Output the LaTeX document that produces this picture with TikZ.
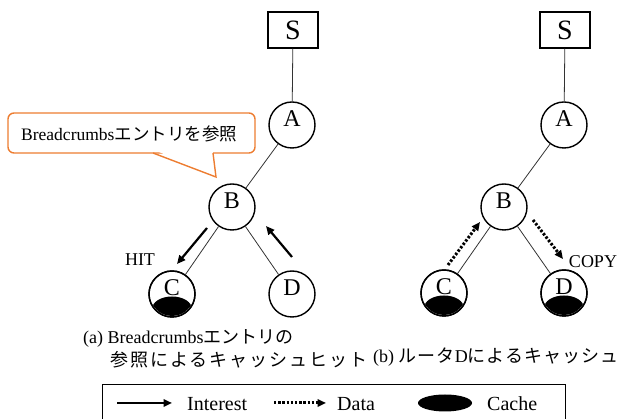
\documentclass[tikz,border=0pt]{standalone}
\usepackage{fontspec}
\setmainfont{Liberation Serif}
\newfontfamily\jpfont{Noto Sans CJK JP}
\newfontfamily\jpwide[LetterSpace=11]{Noto Sans CJK JP}
\newfontfamily\jpmid[LetterSpace=6]{Noto Sans CJK JP}
\usetikzlibrary{arrows.meta}
\definecolor{callorange}{HTML}{ED7D31}
\begin{document}
\begin{tikzpicture}[x=1pt,y=-1pt,
  router/.style={circle,draw,line width=1.4pt,minimum size=46pt,inner sep=0pt},
  rlbl/.style={font=\fontsize{24}{24}\selectfont,yshift=6pt},
  server/.style={rectangle,draw,line width=1.4pt,minimum width=50pt,minimum height=36pt,inner sep=0pt,font=\fontsize{28}{28}\selectfont},
  link/.style={line width=0.8pt,draw=black!80},
  interest/.style={line width=2.2pt,-{Triangle[length=8.5pt,width=7.5pt]}},
  datamsg/.style={line width=3pt,dash pattern=on 2.4pt off 1.8pt,-{Triangle[length=8.5pt,width=7.5pt]}},
  cachefill/.style={fill=black},
  txt/.style={font=\fontsize{18}{20}\selectfont,inner sep=0pt},
  legtxt/.style={font=\fontsize{20}{22}\selectfont,inner sep=0pt,anchor=west}]
\useasboundingbox (0,0) rectangle (633,419);

% ---------- tree (a) ----------
\node[server] (Sa) at (293,30) {S};
\node[router,label={[rlbl]center:A}] (Aa) at (292,125) {};
\node[router,label={[rlbl]center:B}] (Ba) at (232,207) {};
\node[router] (Ca) at (172,294) {};
\node[router,label={[rlbl]center:D}] (Da) at (292,294) {};
\begin{scope}
  \clip (Ca.center) circle (22pt);
  \fill[cachefill] ([yshift=-15pt]Ca.center) ellipse [x radius=20pt,y radius=12.5pt];
\end{scope}
\node[rlbl] at (Ca.center) {C};
\draw[router,fill=none] (Ca.center) circle (23pt);
\draw[link] (Sa) -- (Aa);
\draw[link] (Aa) -- (Ba);
\draw[link] (Ba) -- (Ca);
\draw[link] (Ba) -- (Da);

\coordinate (i1s) at (207,228); \coordinate (i1e) at (177,264);
\coordinate (i2s) at (292,257); \coordinate (i2e) at (266,226);
\draw[interest] (i1s) -- (i1e);
\draw[interest] (i2s) -- (i2e);
\node[txt] (hit) at (140,260) {HIT};

% callout
\draw[callorange,line width=1.4pt,fill=white,rounded corners=6pt] (8,113) rectangle (255,153);
\fill[white] (154,150) -- (212.5,150) -- (215.5,175) -- cycle;
\coordinate (cl) at (153,153); \coordinate (ct) at (216,177); \coordinate (cr) at (213,153);
\draw[callorange,line width=1.4pt,line join=miter] (cl) -- (ct) -- (cr);
\node[txt,anchor=west,font=\fontsize{17.5}{20}\selectfont] (call) at (21,134) {Breadcrumbs{\jpfont エントリを参照}};

% ---------- tree (b) ----------
\node[server] (Sb) at (565,30) {S};
\node[router,label={[rlbl]center:A}] (Ab) at (564,125) {};
\node[router,label={[rlbl]center:B}] (Bb) at (504,207) {};
\node[router] (Cb) at (444,293) {};
\node[router] (Db) at (564,293) {};
\foreach \n/\l in {Cb/C,Db/D}{
  \begin{scope}
    \clip (\n.center) circle (22pt);
    \fill[cachefill] ([yshift=-15pt]\n.center) ellipse [x radius=20pt,y radius=12.5pt];
  \end{scope}
  \node[rlbl] at (\n.center) {\l};
  \draw[router,fill=none] (\n.center) circle (23pt);
}
\draw[link] (Sb) -- (Ab);
\draw[link] (Ab) -- (Bb);
\draw[link] (Bb) -- (Cb);
\draw[link] (Bb) -- (Db);

\coordinate (d1s) at (448,265); \coordinate (d1e) at (480,222);
\coordinate (d2s) at (533,220); \coordinate (d2e) at (563,259);
\draw[datamsg] (d1s) -- (d1e);
\draw[datamsg] (d2s) -- (d2e);
\node[txt] (copy) at (593,262) {COPY};

% ---------- captions ----------
\node[txt,anchor=west] (capa1) at (83,338.5) {(a) Breadcrumbs{\jpfont エントリの}};
\node[txt,anchor=west] (capa2) at (110,360) {\jpwide 参照によるキャッシュヒット};
\node[txt,anchor=west] (capb) at (373,357) {(b) {\jpmid ルータ}D{\jpmid によるキャッシュ}};

% ---------- legend ----------
\draw[line width=0.9pt] (102,419) -- (102,384) -- (565,384) -- (565,419);
\coordinate (l1s) at (117,403); \coordinate (l1e) at (172,403);
\draw[interest] (l1s) -- (l1e);
\node[legtxt] (lint) at (187,404) {Interest};
\coordinate (l2s) at (274,403); \coordinate (l2e) at (326,403);
\draw[datamsg] (l2s) -- (l2e);
\node[legtxt] (ldat) at (337,404) {Data};
\fill[cachefill] (445,403) ellipse [x radius=27pt,y radius=8.5pt];
\node[legtxt] (lcac) at (487,404) {Cache};
\end{tikzpicture}
\end{document}
